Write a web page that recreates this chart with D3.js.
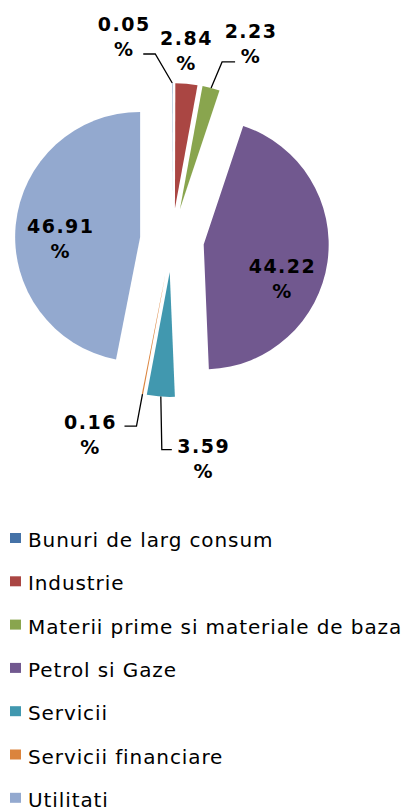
<!doctype html>
<html lang="ro">
<head>
    <meta charset="utf-8"/>
    <title>Structura pe sectoare</title>
    <script src="https://d3js.org/d3.v7.min.js"></script>
    <style>
        body { margin: 0; background: #fff; }
        svg { display: block; }
    </style>
</head>
<body>
<div id="chart"></div>

<script>
    // data
    const categories = [
        "Bunuri de larg consum",
        "Industrie",
        "Materii prime si materiale de baza",
        "Petrol si Gaze",
        "Servicii",
        "Servicii financiare",
        "Utilitati"
    ];
    const values = [0.05, 2.84, 2.23, 44.22, 3.59, 0.16, 46.91];
    const colors = ["#4572A7", "#AA4643", "#89A54E", "#71588F", "#4198AF", "#DB843D", "#93A9CF"];

    // label placement (relative to the outer point of each exploded slice)
    // lx, ly: centre / baseline of first line; leader: [x1, x2, y] relative to label, null = none
    const labelLayout = [
        {lx: -48, ly: -52, leader: [19, 31, 23]},
        {lx: 0, ly: -39, leader: null},
        {lx: 40, ly: -50, leader: [-16, -29, 24]},
        {lx: -45, ly: 11, leader: null},
        {lx: 43, ly: 56, leader: [-32, -42, -3]},
        {lx: -52, ly: 35, leader: [34, 46, -3]},
        {lx: 45, ly: 8, leader: null}
    ];

    let width = 404,
        height = 809;

    let cx = 172, cy = 240,
        radius = 125,
        explode = 32;

    let svg = d3.select("#chart").append("svg")
        .attr("width", width)
        .attr("height", height);

    let data = categories.map((c, i) => ({name: c, value: values[i], color: colors[i], layout: labelLayout[i]}));

    let pie = d3.pie()
        .value(d => d.value)
        .sort(null);

    let arc = d3.arc()
        .innerRadius(0)
        .outerRadius(radius);

    let arcs = pie(data);

    // direction of the slice middle, screen coords
    function dir(d) {
        let a = (d.startAngle + d.endAngle) / 2;
        return [Math.sin(a), -Math.cos(a)];
    }

    let pieLayer = svg.append("g")
        .attr("transform", "translate(" + cx + "," + cy + ")");

    pieLayer.selectAll("path")
        .data(arcs)
        .enter()
        .append("path")
        .attr("d", arc)
        .attr("fill", d => d.data.color)
        .attr("transform", d => {
            let u = dir(d);
            return "translate(" + (u[0] * explode) + "," + (u[1] * explode) + ")";
        });

    // labels
    let labelLayer = pieLayer.append("g");

    arcs.forEach(d => {
        let u = dir(d);
        let ox = u[0] * (explode + radius),
            oy = u[1] * (explode + radius);
        let L = d.data.layout;
        let tx = ox + L.lx,
            ty = oy + L.ly;

        if (L.leader) {
            let pts = [
                [ox, oy],
                [tx + L.leader[1], ty + L.leader[2]],
                [tx + L.leader[0], ty + L.leader[2]]
            ];
            labelLayer.append("path")
                .attr("d", d3.line()(pts))
                .attr("fill", "none")
                .attr("stroke", "#000")
                .attr("stroke-width", 1.3);
        }

        let t = labelLayer.append("text")
            .attr("x", tx)
            .attr("y", ty)
            .attr("text-anchor", "middle")
            .attr("font-family", "DejaVu Sans, Verdana, sans-serif")
            .attr("font-weight", "bold")
            .attr("font-size", 19)
            .attr("letter-spacing", 1.5)
            .attr("fill", "#000");
        t.append("tspan")
            .attr("x", tx)
            .text(d.data.value.toFixed(2));
        t.append("tspan")
            .attr("x", tx)
            .attr("dy", 25)
            .text("%");
    });

    // legend
    let legend = svg.append("g")
        .attr("transform", "translate(10,533)");

    let rows = legend.selectAll("g")
        .data(data)
        .enter()
        .append("g")
        .attr("transform", (d, i) => "translate(0," + (i * 43.3) + ")");

    rows.append("rect")
        .attr("width", 11)
        .attr("height", 10)
        .attr("fill", d => d.color);

    rows.append("text")
        .attr("x", 18)
        .attr("y", 14)
        .attr("font-family", "DejaVu Sans, Verdana, sans-serif")
        .attr("font-size", 20)
        .attr("letter-spacing", 0.9)
        .attr("fill", "#000")
        .text(d => d.name);
</script>

</body>
</html>
